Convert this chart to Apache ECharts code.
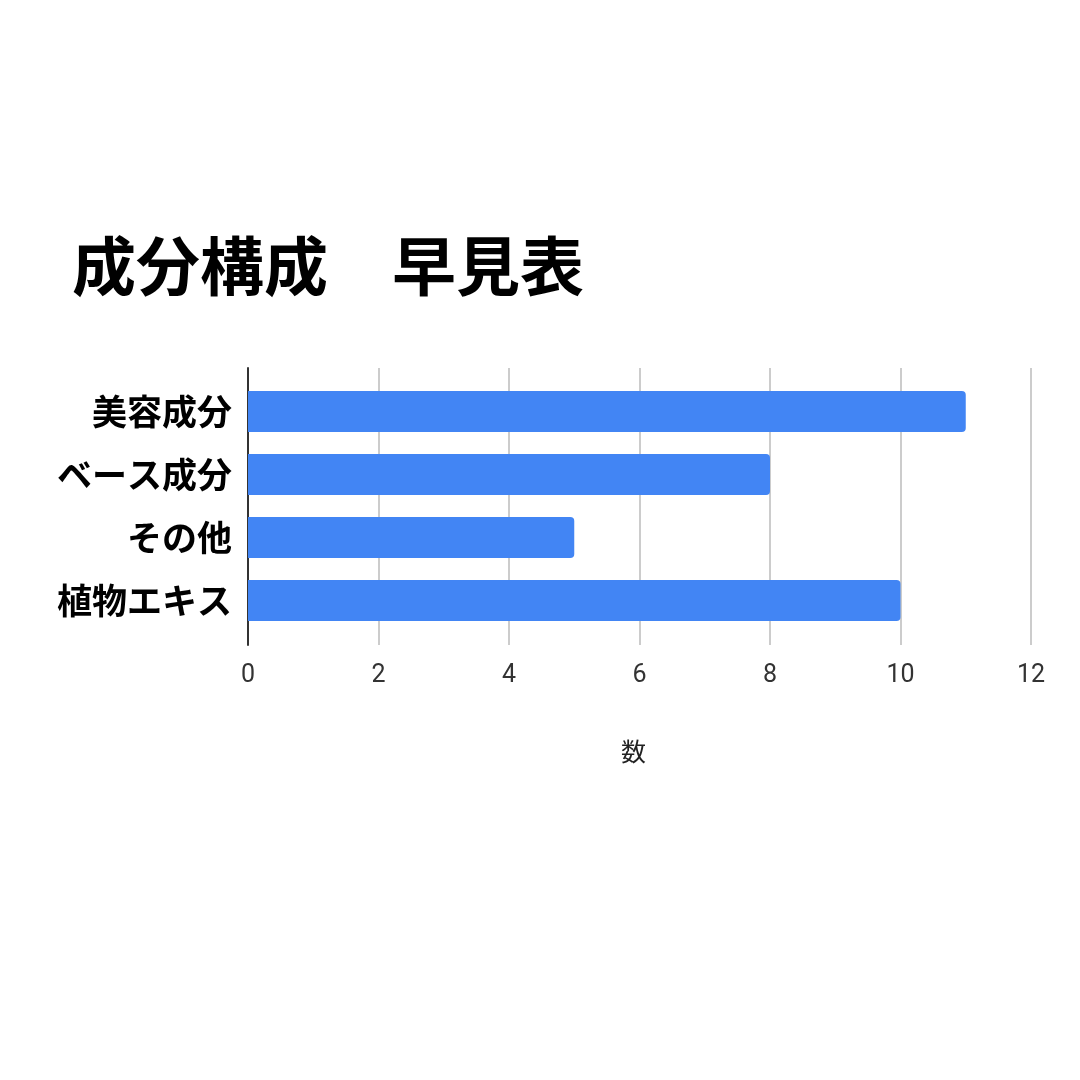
<!DOCTYPE html>
<html><head><meta charset="utf-8">
<script src="https://cdn.jsdelivr.net/npm/echarts@6/dist/echarts.min.js"></script>
<style>html,body{margin:0;padding:0;background:#fff}#c{width:1080px;height:1080px}</style>
</head><body><div id="c"></div>
<script>
const titleText = '成分構成　早見表';
const categories = ['美容成分', 'ベース成分', 'その他', '植物エキス'];
const values = [11, 8, 5, 10];
const axisName = '数';
const xMin = 0, xMax = 12, xStep = 2;

const chart = echarts.init(document.getElementById('c'));
const cjk = '"Noto Sans CJK JP", "Noto Sans", sans-serif';
chart.setOption({
  backgroundColor: '#ffffff',
  animation: false,
  title: {
    text: titleText, left: 67, top: 229,
    textStyle: { fontFamily: cjk, fontSize: 64, fontWeight: 'bold', color: '#000' }
  },
  grid: [
    { left: 248, right: 49, top: 368, height: 277 },
    { left: 248, right: 49, top: 380, height: 252 }
  ],
  xAxis: [
    { type: 'value', gridIndex: 0, min: xMin, max: xMax, interval: xStep,
      name: axisName, nameLocation: 'middle', nameGap: 94,
      nameTextStyle: { fontFamily: cjk, fontSize: 25, color: '#222', padding: [0, 12, 0, 0] },
      axisLine: { show: false }, axisTick: { show: false },
      axisLabel: { margin: 18, fontFamily: 'Roboto, sans-serif', fontSize: 25, color: '#333' },
      splitLine: { show: true, lineStyle: { color: '#cccccc', width: 2 } } },
    { type: 'value', gridIndex: 1, min: xMin, max: xMax, interval: xStep, show: false,
      splitLine: { show: false } }
  ],
  yAxis: [
    { type: 'category', gridIndex: 0, data: [''], axisLabel: { show: false },
      axisTick: { show: false }, splitLine: { show: false },
      axisLine: { show: true, lineStyle: { color: '#333', width: 2 } } },
    { type: 'category', gridIndex: 1, data: categories, inverse: true,
      axisLine: { show: false }, axisTick: { show: false },
      axisLabel: { margin: 16, fontFamily: cjk, fontSize: 35, fontWeight: 'bold', color: '#000' } }
  ],
  series: [{
    type: 'bar', xAxisIndex: 1, yAxisIndex: 1, data: values, barWidth: 41,
    itemStyle: { color: '#4285F4', borderRadius: [0, 4, 4, 0] }
  }]
});
</script></body></html>
